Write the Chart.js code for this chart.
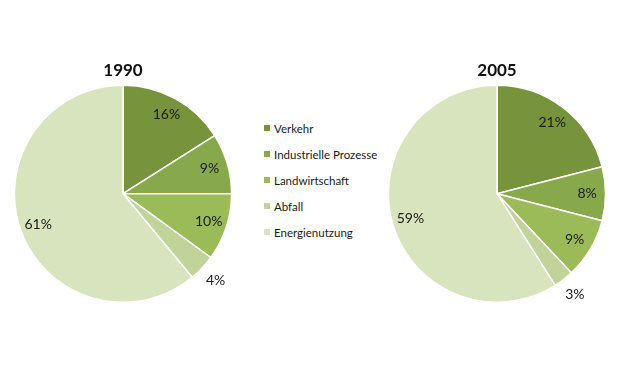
<!DOCTYPE html>
<html>
<head>
<meta charset="utf-8">
<script src="https://cdn.jsdelivr.net/npm/chart.js@4"></script>
<style>
  body { margin: 0; background: #fff; width: 624px; height: 386px; position: relative; overflow: hidden; font-family: Lato, "Open Sans", sans-serif; }
  .pie { position: absolute; top: 56px; }
  #legend { position: absolute; left: 264px; top: 115px; }
  .item { display: flex; align-items: center; font-size: 11.5px; color: #1a1a1a; height: 26px; }
  .item span.box { width: 6px; height: 6px; margin-right: 4px; display: inline-block; }
</style>
</head>
<body>
<canvas id="pie1990" class="pie" style="left:13px" width="220" height="247"></canvas>
<div id="legend"></div>
<canvas id="pie2005" class="pie" style="left:387px" width="220" height="247"></canvas>
<script>
let categories = ["Verkehr", "Industrielle Prozesse", "Landwirtschaft", "Abfall", "Energienutzung"];
let values1990 = [16, 9, 10, 4, 61];
let values2005 = [21, 8, 9, 3, 59];
let colors = ["#77933c", "#88a94b", "#9bbb59", "#c0d49a", "#d7e4bd"];

// percent labels, small slices go outside
let pctLabels = {
    id: "pctLabels",
    afterDatasetsDraw(chart) {
        let ctx = chart.ctx;
        let arcs = chart.getDatasetMeta(0).data;
        let data = chart.data.datasets[0].data;
        ctx.save();
        ctx.font = "14px Lato, 'Open Sans', sans-serif";
        ctx.fillStyle = "#1a1a1a";
        ctx.textAlign = "center";
        ctx.textBaseline = "middle";
        arcs.forEach(function (arc, i) {
            let mid = (arc.startAngle + arc.endAngle) / 2;
            let f = data[i] < 5 ? 1.17 : 0.83;
            let x = arc.x + Math.cos(mid) * arc.outerRadius * f;
            let y = arc.y + Math.sin(mid) * arc.outerRadius * f;
            ctx.fillText(data[i] + "%", x, y);
        });
        ctx.restore();
    }
};

function createPie(id, title, values) {
    new Chart(document.getElementById(id), {
        type: "pie",
        data: {
            labels: categories,
            datasets: [{
                data: values,
                backgroundColor: colors,
                borderColor: "#ffffff",
                borderWidth: 1.5
            }]
        },
        options: {
            responsive: false,
            animation: false,
            layout: { padding: 0 },
            plugins: {
                legend: { display: false },
                tooltip: { enabled: false },
                title: {
                    display: true,
                    text: title,
                    color: "#111",
                    font: { size: 17, weight: "bold", family: "Lato, 'Open Sans', sans-serif" },
                    padding: { top: 4, bottom: 4 }
                }
            }
        },
        plugins: [pctLabels]
    });
}

createPie("pie1990", "1990", values1990);
createPie("pie2005", "2005", values2005);

let legend = document.getElementById("legend");
for (let i = 0; i < categories.length; i++) {
    let div = document.createElement("div");
    div.className = "item";
    div.innerHTML = '<span class="box" style="background:' + colors[i] + '"></span>' + categories[i];
    legend.appendChild(div);
}
</script>
</body>
</html>
